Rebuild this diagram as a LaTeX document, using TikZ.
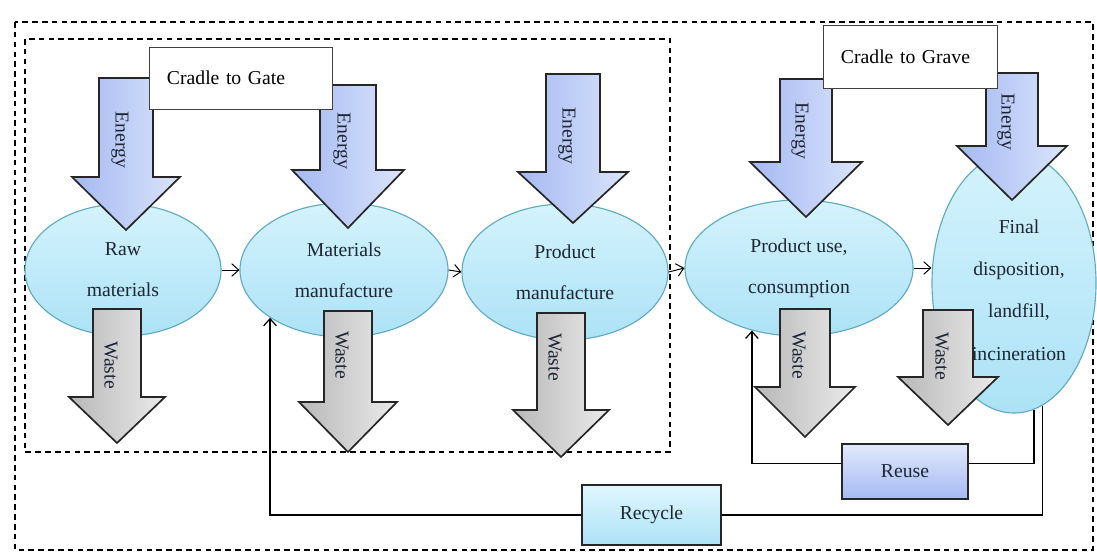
\documentclass[tikz,border=0pt]{standalone}
\usepackage{fontspec}
\setmainfont{Liberation Serif}
\usetikzlibrary{arrows.meta, shapes.geometric}

\definecolor{ellTop}{RGB}{212,243,253}
\definecolor{ellBot}{RGB}{172,226,246}
\definecolor{ellLine}{RGB}{95,170,192}
\definecolor{enDark}{RGB}{165,185,242}
\definecolor{enLight}{RGB}{218,228,252}
\definecolor{ink}{RGB}{30,38,52}

\begin{document}
\begin{tikzpicture}[x = 0.025cm, y = -0.025cm, font = \fontsize{14}{29}\selectfont,
	stage/.style = {ellipse, draw = ellLine, line width = 0.8pt, top color = ellTop, bottom color = ellBot, inner sep = 0pt, align = center, text = ink},
	energy/.style = {draw = black!85, line width = 1.2pt, line join = miter, left color = enDark, right color = enLight},
	waste/.style = {draw = black!85, line width = 1.2pt, line join = miter, left color = black!28, right color = black!8},
	scopebox/.style = {draw = black!75, line width = 0.6pt, fill = white, inner xsep = 0.45cm, align = left, minimum height = 1.55cm},
	loopbox/.style = {draw = black!85, line width = 1.1pt, text = ink},
	zone/.style = {line width = 1.1pt, dash pattern = on 4pt off 3pt},
	flow/.style = {-{Straight Barb[length = 5pt, width = 9pt]}, line width = 0.7pt},
	back/.style = {line width = 0.9pt, -{Straight Barb[length = 5pt, width = 9pt]}}]
	\useasboundingbox (0, 0) rectangle (1097, 554);

	% dashed zones
	\draw[zone] (15, 22) rectangle (1093, 550);
	\draw[zone] (25, 39) rectangle (670, 452);

	% life cycle stages
	\node[stage, minimum width = 4.9cm, minimum height = 3.3cm] (raw) at (123, 270){Raw\\materials};
	\node[stage, minimum width = 5.2cm, minimum height = 3.35cm] (matman) at (344, 270){Materials\\manufacture};
	\node[stage, minimum width = 5.15cm, minimum height = 3.4cm] (prodman) at (565, 272){Product\\manufacture};
	\node[stage, minimum width = 5.7cm, minimum height = 3.4cm] (use) at (799, 268){Product use,\\consumption};
	\node[stage, minimum width = 4.1cm, minimum height = 6.5cm] (final) at (1014, 283){};

	\draw[flow] (raw.east) -- (matman.west);
	\draw[flow] (matman.east) -- (prodman.west);
	\draw[flow] (prodman.east) -- (use.west);
	\draw[flow] (use.east) -- (use.east -| final.west);

	% energy in
	\foreach \n/\x/\t/\h/\p/\s/\w/\ly in {e1/126/78/177/230/27/54/140, e2/348/85/170/228/28/56/141, e3/573/74/172/223/27/55/136, e4/806/79/162/217/26/56/131, e5/1012/73/146/200/26/55/122}{
		\draw[energy] (\x-\s, \t) -- (\x+\s, \t) -- (\x+\s, \h) -- (\x+\w, \h) -- (\x, \p) -- (\x-\w, \h) -- (\x-\s, \h) -- cycle;
		\node[rotate = -90, text = ink] (\n) at (\x-6, \ly){Energy};
	}

	% waste out
	\foreach \n/\x/\t/\h/\p/\s/\w/\ly in {w1/117/309/397/443/24/48/365, w2/348/311/402/452/24/49/355, w3/561/313/410/457/24/48/357, w4/805/309/387/437/25/50/355, w5/948/310/377/425/25/50/356}{
		\draw[waste] (\x-\s, \t) -- (\x+\s, \t) -- (\x+\s, \h) -- (\x+\w, \h) -- (\x, \p) -- (\x-\w, \h) -- (\x-\s, \h) -- cycle;
		\node[rotate = -90, text = ink] (\n) at (\x-6, \ly){Waste};
	}

	% text of the last stage sits over its waste arrow
	\node[align = center, text = ink, font = \fontsize{14}{30}\selectfont] (finaltext) at (1019, 290){Final\\disposition,\\landfill,\\incineration};

	\node[scopebox, text width = 3.675cm] (gate) at (240.5, 78){Cradle to Gate};
	\node[scopebox, text width = 3.45cm, minimum height = 1.575cm] (grave) at (910, 56.5){Cradle to Grave};

	% reuse and recycle loops
	\node[loopbox, top color = enLight!80!white, bottom color = enDark, minimum width = 3.15cm, minimum height = 1.375cm] (reuse) at (905, 471.5){Reuse};
	\node[loopbox, top color = ellTop!70!white, bottom color = ellBot, minimum width = 3.475cm, minimum height = 1.5cm] (recycle) at (651.5, 515){Recycle};

	\draw[line width = 0.9pt] ([yshift = 0.2cm]reuse.east) -| (final.-81);
	\draw[back] ([yshift = 0.2cm]reuse.west) -| (use.233);
	\draw[line width = 0.9pt] (recycle.east) -| (final.-77);
	\draw[back] (recycle.west) -| (matman.south west);
\end{tikzpicture}
\end{document}
